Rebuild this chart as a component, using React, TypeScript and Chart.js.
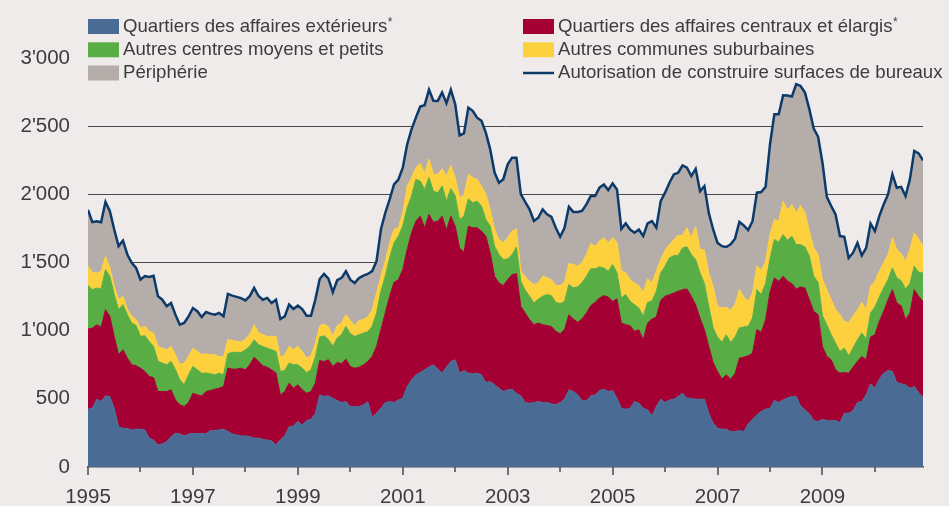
import React, { useEffect, useRef } from 'react';
import { Chart, registerables } from 'chart.js';

Chart.register(...registerables);

// ---------- data (monthly, Jan 1995 – Dec 2010) ----------
const startYear = 1995;

const blue = [
  424, 431, 497, 480, 522, 517, 431, 296, 284, 284, 272, 277, 277, 272, 211, 198, 162, 169, 186, 223,
  247, 243, 228, 240, 247, 243, 247, 243, 267, 267, 272, 277, 260,
  243, 235, 228, 228, 223, 211, 211, 203, 198, 191, 162, 198, 228, 296, 301, 333, 309, 341, 350, 394,
  529, 517, 522, 505, 488, 473, 480, 443, 443, 443, 456, 478,
  365, 394, 431, 473, 480, 473, 492, 505, 590, 639, 676, 693, 713, 733, 750, 718, 688, 733, 774, 786,
  688, 708, 688, 684, 688, 676, 620, 627, 603, 578, 554, 566,
  571, 541, 522, 473, 468, 473, 480, 473, 473, 463, 456, 473, 497, 566, 554, 529, 488, 485, 522, 529,
  561, 571, 554, 561, 505, 431, 424, 431, 480, 468, 431, 419,
  375, 443, 497, 473, 492, 497, 517, 541, 505, 505, 497, 497, 497, 394, 321, 284, 277, 277, 260, 260,
  267, 260, 316, 350, 382, 407, 424, 431, 488, 473, 492, 507,
  517, 517, 448, 419, 390, 341, 333, 350, 341, 341, 341, 326, 394, 394, 414, 473, 480, 529, 610, 578,
  644, 688, 708, 701, 620, 610, 603, 578, 590, 546, 512,
];

const red = [
  588, 588, 546, 546, 632, 588, 527, 527, 576, 515, 478, 466, 448, 429, 453, 458, 392, 385, 368, 343,
  245, 213, 216, 233, 294, 287, 274, 311, 294, 304, 306, 314, 466,
  475, 483, 497, 485, 527, 595, 564, 539, 534, 522, 527, 331, 326, 319, 277, 270, 257, 201, 203, 221,
  252, 257, 265, 233, 279, 284, 311, 294, 282, 289, 294, 296,
  446, 490, 576, 657, 772, 882, 882, 943, 1005, 1078, 1127, 1147, 1041, 1120, 1046, 1085, 1152, 1005, 1066, 980,
  919, 867, 1078, 1071, 1066, 1054, 1073, 943, 796, 772, 777, 809,
  840, 877, 657, 657, 613, 571, 576, 571, 564, 568, 539, 505, 510, 551, 532, 532, 598, 644, 662, 679,
  679, 686, 693, 654, 728, 625, 620, 605, 515, 539, 502, 637,
  711, 657, 725, 779, 772, 779, 772, 760, 801, 747, 693, 595, 510, 490, 446, 417, 368, 399, 385, 424,
  532, 546, 500, 485, 625, 581, 657, 850, 899, 889, 907, 858,
  828, 789, 872, 894, 838, 801, 784, 534, 470, 446, 372, 363, 299, 294, 319, 301, 331, 257, 343, 392,
  424, 453, 519, 600, 583, 573, 478, 551, 711, 706, 703,
];

const green = [
  319, 282, 270, 279, 294, 294, 306, 331, 331, 319, 306, 294, 233, 262, 257, 228, 221, 208, 196, 208,
  221, 184, 159, 203, 196, 184, 167, 135, 123, 105, 110, 86, 105,
  123, 123, 115, 147, 135, 127, 123, 142, 140, 147, 159, 172, 154, 147, 172, 147, 159, 152, 159, 191,
  172, 189, 147, 147, 179, 213, 240, 240, 233, 238, 233, 218,
  221, 245, 282, 270, 282, 289, 319, 319, 306, 270, 306, 257, 282, 270, 228, 208, 221, 213, 201, 221,
  208, 265, 201, 184, 196, 184, 123, 196, 221, 208, 191, 152,
  147, 196, 184, 167, 172, 159, 176, 208, 228, 225, 213, 221, 208, 221, 228, 260, 265, 270, 270, 245,
  228, 203, 189, 270, 191, 184, 221, 179, 196, 159, 172, 152,
  130, 189, 201, 221, 270, 274, 262, 306, 309, 306, 331, 331, 338, 294, 252, 252, 270, 294, 270, 270,
  221, 221, 216, 257, 294, 277, 265, 245, 282, 287, 306, 299,
  348, 326, 311, 301, 319, 257, 238, 225, 233, 184, 196, 159, 179, 127, 140, 159, 172, 152, 176, 203,
  179, 172, 147, 159, 184, 184, 225, 216, 172, 176, 208,
];

const yellow = [
  142, 123, 110, 130, 98, 61, 61, 74, 61, 37, 49, 44, 61, 69, 74, 98, 110, 110, 110, 110,
  110, 110, 159, 135, 135, 135, 135, 142, 140, 147, 123, 130, 103,
  88, 81, 76, 78, 86, 110, 86, 86, 86, 98, 110, 105, 115, 123, 110, 135, 123, 105, 103, 103,
  83, 86, 93, 74, 91, 86, 86, 98, 78, 105, 98, 108,
  123, 147, 110, 110, 110, 98, 61, 98, 159, 135, 86, 130, 118, 135, 123, 135, 127, 184, 172, 135,
  159, 159, 179, 184, 159, 147, 184, 123, 123, 110, 123, 154,
  172, 132, 74, 98, 110, 135, 118, 147, 123, 118, 123, 132, 140, 154, 172, 152, 147, 159, 186, 167,
  189, 221, 208, 196, 225, 196, 159, 159, 159, 164, 172, 172,
  135, 147, 98, 118, 98, 118, 147, 91, 140, 123, 245, 176, 245, 245, 306, 225, 252, 201, 235, 238,
  282, 221, 184, 184, 172, 179, 164, 179, 147, 154, 245, 221,
  233, 233, 287, 250, 184, 208, 203, 265, 257, 257, 245, 270, 196, 245, 233, 221, 225, 216, 196, 189,
  189, 184, 184, 221, 208, 198, 203, 250, 245, 245, 196,
];

const gray = [
  412, 372, 380, 360, 399, 417, 417, 392, 409, 404, 392, 380, 355, 368, 399, 421, 368, 355, 319, 319,
  294, 294, 294, 294, 294, 294, 277, 306, 301, 294, 319, 299, 336,
  328, 326, 323, 284, 282, 270, 270, 257, 282, 245, 270, 279, 282, 306, 299, 299, 311, 311, 294, 319,
  343, 368, 355, 323, 333, 331, 319, 299, 314, 311, 323, 316,
  282, 233, 343, 355, 319, 331, 355, 331, 306, 355, 368, 417, 500, 510, 539, 539, 559, 534, 554, 539,
  458, 448, 490, 490, 453, 478, 453, 441, 417, 417, 466, 539,
  539, 522, 564, 549, 527, 466, 478, 490, 466, 461, 424, 358, 399, 417, 385, 397, 380, 368, 348, 368,
  392, 392, 387, 399, 387, 311, 363, 368, 368, 412, 417, 407,
  453, 319, 429, 421, 453, 478, 461, 515, 441, 453, 421, 424, 470, 441, 417, 466, 453, 443, 483, 483,
  495, 524, 522, 527, 539, 573, 546, 662, 772, 784, 777, 840,
  791, 943, 877, 882, 894, 875, 865, 858, 681, 686, 698, 576, 620, 473, 466, 490, 343, 453, 461, 368,
  404, 429, 441, 466, 453, 490, 478, 515, 600, 627, 630,
];

const tickYears = [1995, 1996, 1997, 1998, 1999, 2000, 2001, 2002, 2003, 2004, 2005, 2006, 2007, 2008, 2009, 2010];
const labelYears = [1995, 1997, 1999, 2001, 2003, 2005, 2007, 2009];
const yTickValues = [0, 500, 1000, 1500, 2000, 2500, 3000];

const seriesNames = [
  'Quartiers des affaires extérieurs*',
  'Quartiers des affaires centraux et élargis*',
  'Autres centres moyens et petits',
  'Autres communes suburbaines',
  'Périphérie',
  'Autorisation de construire surfaces de bureaux',
];

// ---------- styles ----------
const BG = '#EEEBEA';
const TEXT = '#3c3c3c';
const FONT = '"Liberation Sans", Arial, Helvetica, sans-serif';
const colors = ['#4A6B94', '#A50034', '#58AE45', '#FDD03E', '#B4ADAA'];
const LINE = '#0C3A6B';

const months = blue.map((_, i) => startYear + i / 12);
const total = blue.map((v, i) => v + red[i] + green[i] + yellow[i] + gray[i]);

const fmt = (v: number) =>
  v >= 1000 ? `${Math.floor(v / 1000)}'${String(v % 1000).padStart(3, '0')}` : String(v);

const yearTicksPlugin = {
  id: 'yearTicks',
  afterDraw(chart: any) {
    const { ctx, scales, chartArea } = chart;
    const x = scales.x;
    ctx.save();
    ctx.strokeStyle = '#4a4a4a';
    ctx.lineWidth = 1.5;
    tickYears.forEach((yr) => {
      const px = Math.round(x.getPixelForValue(yr));
      const len = labelYears.includes(yr) ? 8 : 5;
      ctx.beginPath();
      ctx.moveTo(px, chartArea.bottom);
      ctx.lineTo(px, chartArea.bottom + len);
      ctx.stroke();
    });
    ctx.restore();
  },
};

const legendPlugin = {
  id: 'customLegend',
  afterDraw(chart: any) {
    const ctx = chart.ctx;
    // [series index, column, row]
    const layout = [
      [0, 0, 0],
      [2, 0, 1],
      [4, 0, 2],
      [1, 1, 0],
      [3, 1, 1],
      [5, 1, 2],
    ];
    const colX = [88, 523];
    const rowBase = [31.5, 54.8, 78];
    ctx.save();
    layout.forEach(([si, c, r]) => {
      const bx = colX[c];
      const base = rowBase[r];
      const boxTop = base - 12.5;
      if (si < 5) {
        ctx.fillStyle = colors[si];
        ctx.fillRect(bx, boxTop, 31, 15);
      } else {
        ctx.strokeStyle = LINE;
        ctx.lineWidth = 2.5;
        ctx.beginPath();
        ctx.moveTo(bx, boxTop + 7.5);
        ctx.lineTo(bx + 31, boxTop + 7.5);
        ctx.stroke();
      }
      let label = seriesNames[si];
      const star = label.endsWith('*');
      if (star) label = label.slice(0, -1);
      ctx.font = `18.6px ${FONT}`;
      ctx.fillStyle = TEXT;
      ctx.textBaseline = 'alphabetic';
      ctx.textAlign = 'left';
      ctx.fillText(label, bx + 35, base);
      if (star) {
        const w = ctx.measureText(label).width;
        ctx.font = `12px ${FONT}`;
        ctx.fillText('*', bx + 35 + w + 0.5, base - 6);
      }
    });
    ctx.restore();
  },
};

export default function App() {
  const ref = useRef<HTMLCanvasElement>(null);

  useEffect(() => {
    document.body.style.margin = '0';
    document.body.style.background = BG;
    const areaSets = [blue, red, green, yellow, gray].map((d, i) => ({
      label: seriesNames[i],
      data: d,
      backgroundColor: colors[i],
      borderColor: colors[i],
      borderWidth: 1,
      pointRadius: 0,
      tension: 0,
      fill: i === 0 ? 'origin' : '-1',
      stack: 'areas',
      order: 1,
    }));
    const chart = new Chart(ref.current as HTMLCanvasElement, {
      type: 'line',
      data: {
        labels: months,
        datasets: [
          ...areaSets,
          {
            label: seriesNames[5],
            data: total,
            borderColor: LINE,
            backgroundColor: LINE,
            borderWidth: 2.5,
            pointRadius: 0,
            tension: 0,
            fill: false,
            stack: 'total',
            order: 0,
          },
        ] as any,
      },
      options: {
        animation: false,
        responsive: false,
        layout: { padding: { left: 0, right: 26, top: 58, bottom: 0 } },
        plugins: { legend: { display: false }, tooltip: { enabled: false } },
        scales: {
          x: {
            type: 'linear',
            min: startYear,
            max: startYear + (blue.length - 1) / 12,
            z: 1,
            afterBuildTicks: (s: any) => {
              s.ticks = tickYears.map((v) => ({ value: v }));
            },
            afterFit: (s: any) => {
              s.height = 39;
            },
            grid: { display: false, drawTicks: false },
            border: { display: true, color: '#4a4a4a', width: 1.5 },
            ticks: {
              autoSkip: false,
              maxRotation: 0,
              padding: 18,
              color: TEXT,
              font: { family: FONT, size: 20.5 },
              callback: (v: any) => (labelYears.includes(Number(v)) ? String(v) : ''),
            },
          },
          y: {
            stacked: true,
            min: 0,
            max: 3000,
            afterBuildTicks: (s: any) => {
              s.ticks = yTickValues.map((v) => ({ value: v }));
            },
            afterFit: (s: any) => {
              s.width = 88;
            },
            grid: {
              drawTicks: false,
              lineWidth: 1,
              color: (c: any) =>
                c.tick && (c.tick.value === 3000 || c.tick.value === 0) ? 'rgba(0,0,0,0)' : '#4a4a4a',
            },
            border: { display: false },
            ticks: {
              padding: 18,
              color: TEXT,
              font: { family: FONT, size: 20.5 },
              callback: (v: any) => fmt(Number(v)),
            },
          },
        },
      },
      plugins: [yearTicksPlugin, legendPlugin],
    } as any);
    return () => chart.destroy();
  }, []);

  return (
    <div style={{ width: 949, height: 506, background: BG, overflow: 'hidden' }}>
      <canvas ref={ref} width={949} height={506} style={{ display: 'block' }} />
    </div>
  );
}
